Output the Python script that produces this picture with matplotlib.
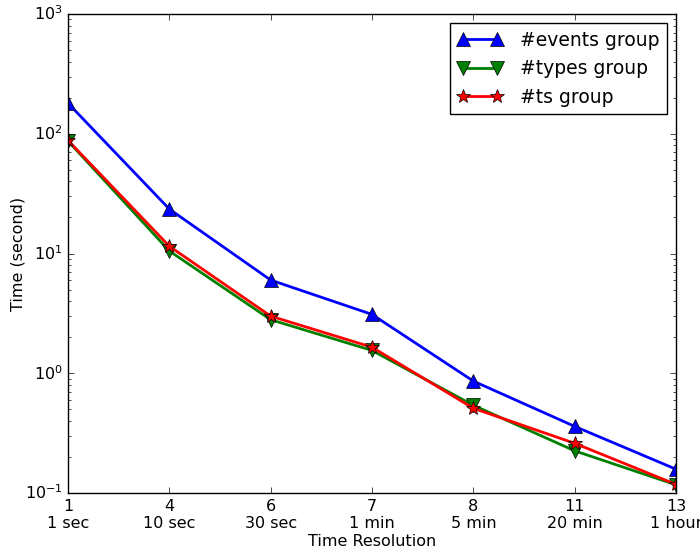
import matplotlib
matplotlib.use('Agg')
import matplotlib.pyplot as plt

plt.style.use('classic')

# data
resolutions = ['1\n1 sec', '4\n10 sec', '6\n30 sec', '7\n1 min',
               '8\n5 min', '11\n20 min', '13\n1 hour']
events_group = [180, 23.5, 6.0, 3.1, 0.86, 0.36, 0.158]
types_group = [87, 10.5, 2.8, 1.55, 0.54, 0.225, 0.117]
ts_group = [88, 11.5, 3.0, 1.65, 0.51, 0.26, 0.118]

x = list(range(len(resolutions)))

fig = plt.figure(figsize=(7, 5.52), dpi=100, facecolor='white')
ax = fig.add_axes([68 / 700, 1 - 493 / 552, (676 - 68) / 700, (493 - 14) / 552])

ax.plot(x, events_group, 'b-^', lw=2, ms=10, label='#events group')
ax.plot(x, types_group, 'g-v', lw=2, ms=10, label='#types group')
ax.plot(x, ts_group, 'r-*', lw=2, ms=10, label='#ts group')

ax.set_yscale('log')
ax.set_ylim(0.1, 1000)
ax.set_xlim(0, len(resolutions) - 1)
ax.set_xticks(x)
ax.set_xticklabels(resolutions)
ax.set_xlabel('Time Resolution', fontsize=11.5)
ax.set_ylabel('Time (second)', fontsize=11.5)
ax.xaxis.set_label_coords(0.5, -0.085)
ax.yaxis.set_label_coords(-0.07, 0.5)
ax.tick_params(labelsize=11.5)

ax.legend(loc='upper right', numpoints=2, fontsize=13.5, markerscale=1.05,
          handlelength=2.4, handletextpad=0.9, borderaxespad=0.5)

fig.savefig('out.png', dpi=100, facecolor='white')
